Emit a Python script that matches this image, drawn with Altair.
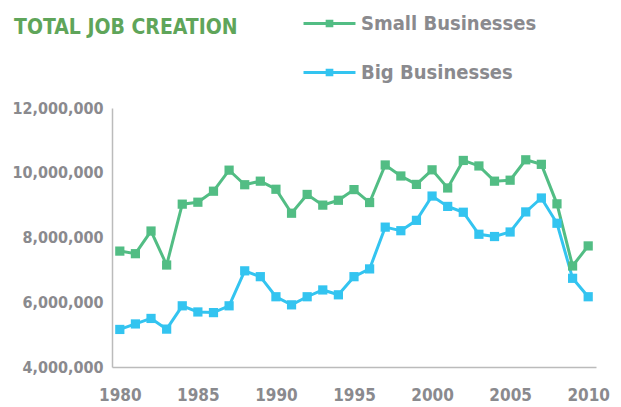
import altair as alt
import pandas as pd

years = list(range(1980, 2011))
small = [7.58, 7.50, 8.20, 7.15, 9.03, 9.09, 9.43, 10.08, 9.63, 9.74, 9.49, 8.75, 9.33, 9.00, 9.15,
         9.48, 9.08, 10.24, 9.90, 9.64, 10.09, 9.53, 10.38, 10.21, 9.74, 9.77, 10.40, 10.26, 9.04, 7.12, 7.74]
big = [5.16, 5.33, 5.50, 5.17, 5.89, 5.70, 5.68, 5.89, 6.97, 6.79, 6.17, 5.92, 6.17, 6.38, 6.23,
       6.79, 7.03, 8.32, 8.21, 8.53, 9.28, 8.96, 8.78, 8.10, 8.03, 8.17, 8.79, 9.22, 8.44, 6.74, 6.17]
series = ["Small Businesses", "Big Businesses"]
colors = ["#52bd84", "#33c4f0"]
x_ticks = [1980, 1985, 1990, 1995, 2000, 2005, 2010]
y_ticks = [4000000, 6000000, 8000000, 10000000, 12000000]

rows = []
for y, s, b in zip(years, small, big):
    rows.append({"year": y, "series": series[0], "jobs": s * 1e6})
    rows.append({"year": y, "series": series[1], "jobs": b * 1e6})
df = pd.DataFrame(rows)

FONT = "DejaVu Sans Condensed, Liberation Sans Narrow, sans-serif"
GRAY = "#8a8a8e"

legend_path = "M-1,0H1M-0.09,-0.09H0.09V0.09H-0.09Z"

chart = alt.Chart(df).mark_line(
    strokeWidth=3,
    point=alt.OverlayMarkDef(shape="square", filled=True, size=85, opacity=1),
).encode(
    x=alt.X("year:Q", scale=alt.Scale(domain=[1979.5, 2010.5], nice=False, zero=False),
            axis=alt.Axis(values=x_ticks, format="d", title=None, grid=False, ticks=False,
                          domainColor="#bbbbbb", domainWidth=1.5, labelFont=FONT, labelFontSize=17,
                          labelFontWeight="bold", labelColor=GRAY, labelPadding=20)),
    y=alt.Y("jobs:Q", scale=alt.Scale(domain=[4000000, 12000000], nice=False, zero=False),
            axis=alt.Axis(values=y_ticks, format=",d", title=None, grid=False, ticks=False,
                          domainColor="#bbbbbb", domainWidth=1.5, labelFont=FONT, labelFontSize=16,
                          labelFontWeight="bold", labelColor=GRAY, labelPadding=9)),
    color=alt.Color("series:N", scale=alt.Scale(domain=series, range=colors),
                    legend=alt.Legend(title=None, orient="none", legendX=190, legendY=-112,
                                      symbolType=legend_path, symbolSize=2700, symbolStrokeWidth=3,
                                      labelFont=FONT, labelFontSize=20, labelFontWeight="bold",
                                      labelColor=GRAY, labelOffset=4, rowPadding=11,
                                      labelLimit=300)),
    detail="series:N",
).properties(
    width=484,
    height=259,
    title=alt.TitleParams("TOTAL JOB CREATION", anchor="start", frame="group", dx=-98,
                          offset=-59, baseline="alphabetic", font=FONT, fontSize=21,
                          fontWeight="bold", color="#5fa55a"),
    autosize=alt.AutoSizeParams(type="none"),
    padding={"left": 104, "top": 100, "right": 17, "bottom": 38},
).configure_view(stroke=None)

chart.save("out.html", embed_options={"renderer": "svg", "actions": False})
